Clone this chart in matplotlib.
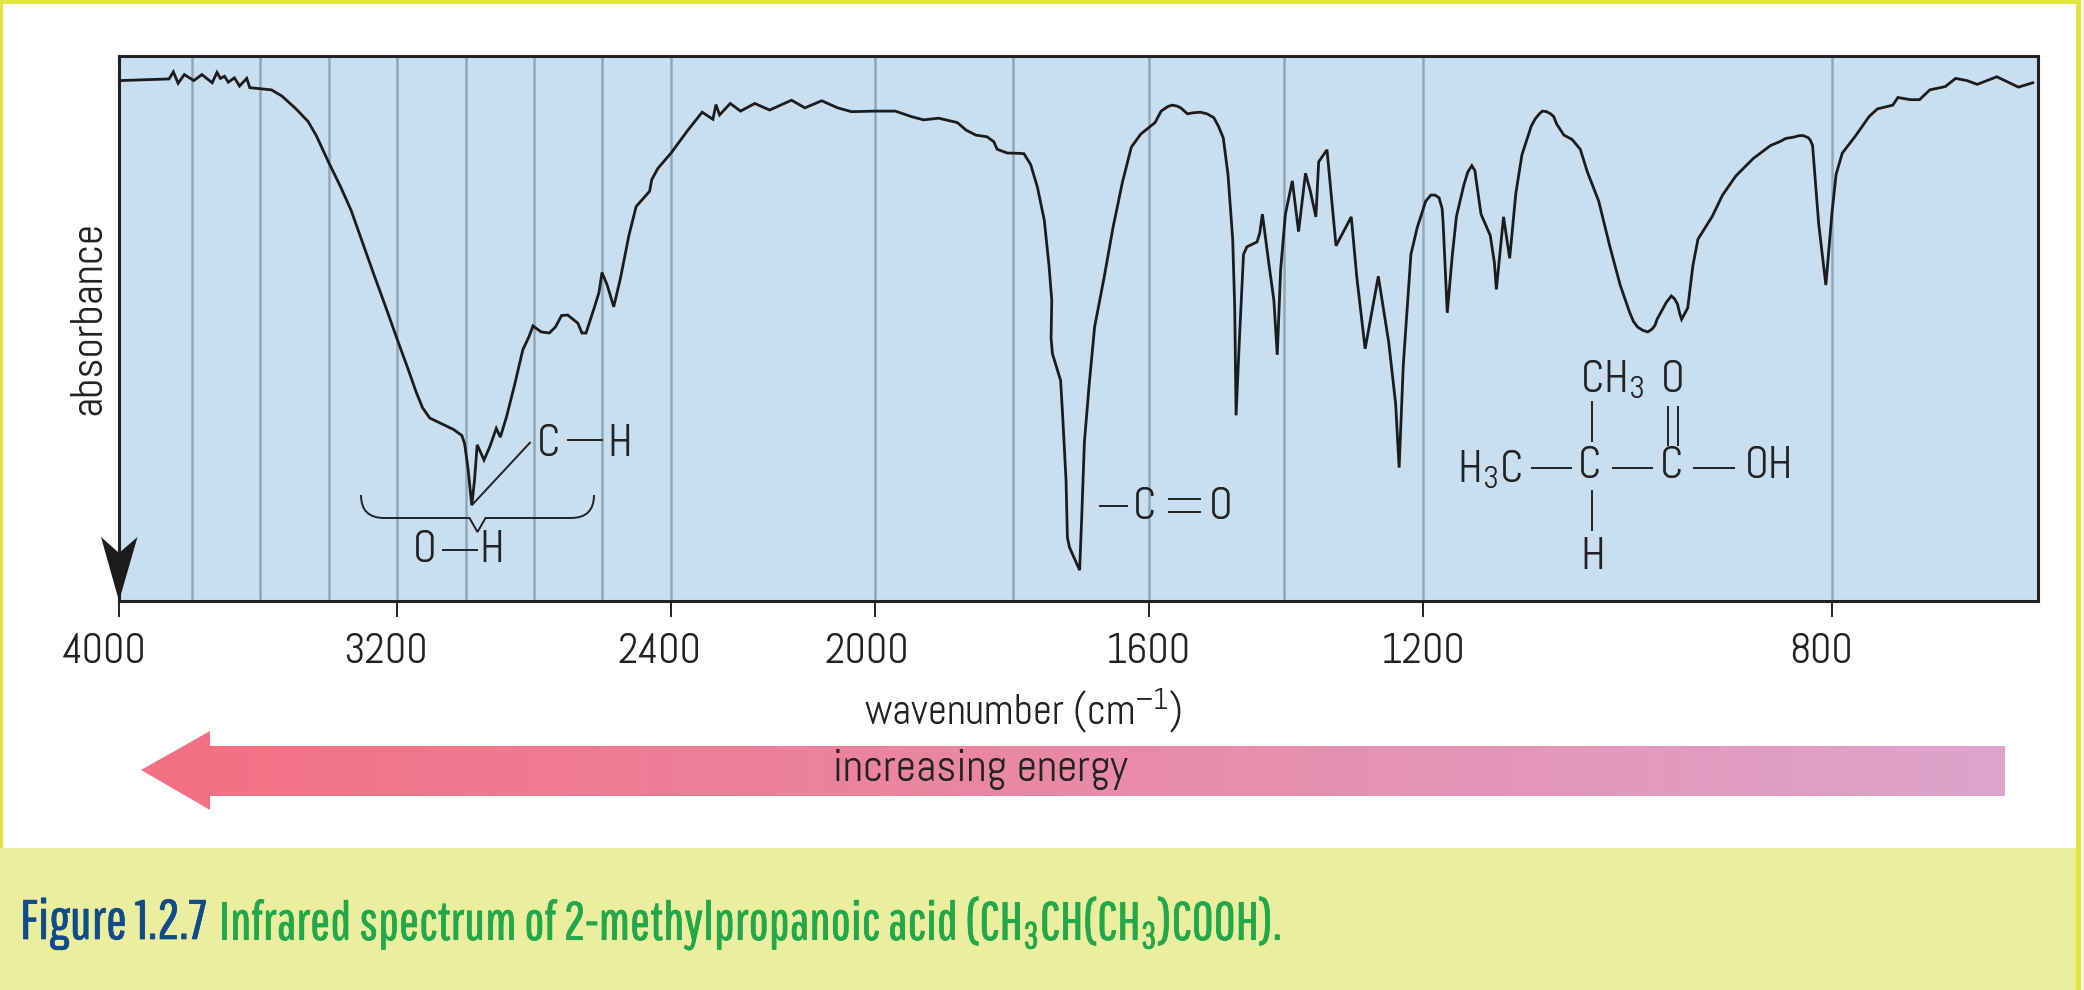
import numpy as np
import matplotlib
matplotlib.use("Agg")
import matplotlib.pyplot as plt
import matplotlib.patheffects as pe
from matplotlib.patches import Polygon, PathPatch, Rectangle
from matplotlib.path import Path
from matplotlib.colors import to_rgb
from matplotlib.transforms import ScaledTranslation

plt.rcParams['font.family'] = ['Abel', 'Liberation Sans', 'DejaVu Sans']
plt.rcParams['mathtext.fontset'] = 'custom'
plt.rcParams['mathtext.rm'] = 'Abel'
plt.rcParams['mathtext.default'] = 'regular'

# spectrum: wavenumber (cm-1), absorbance in % of frame height
wavenumber = [3997, 3863, 3851, 3838, 3821, 3795, 3771, 3741, 3727, 3717, 3705, 3694, 3676, 3661, 3640, 3631,
              3598, 3568, 3538, 3496, 3461, 3437, 3401, 3365, 3335, 3305, 3269, 3234, 3198, 3168, 3144, 3126,
              3105, 3072, 3036, 3012, 3004, 2994, 2983, 2975, 2967, 2947, 2929, 2911, 2899, 2881, 2857, 2833,
              2815, 2803, 2779, 2755, 2737, 2719, 2701, 2671, 2659, 2647, 2623, 2609, 2600, 2585, 2566, 2546,
              2522, 2501, 2462, 2456, 2438, 2400, 2367, 2339, 2318, 2312, 2305, 2284, 2264, 2236, 2207, 2164,
              2138, 2105, 2074, 2047, 2000, 1971, 1948, 1930, 1908, 1881, 1868, 1854, 1838, 1828, 1823, 1808,
              1800, 1784, 1774, 1764, 1754, 1747, 1743, 1744, 1742, 1730, 1727, 1722, 1720, 1717, 1702, 1699,
              1695, 1688, 1680, 1666, 1653, 1639, 1626, 1612, 1600, 1591, 1582, 1575, 1571, 1565, 1558, 1553,
              1543, 1534, 1524, 1514, 1504, 1497, 1490, 1483, 1476, 1473, 1471, 1466, 1460, 1455, 1440, 1436,
              1432, 1422, 1415, 1410, 1405, 1398, 1388, 1379, 1369, 1362, 1354, 1350, 1338, 1325, 1303, 1295,
              1283, 1264, 1249, 1239, 1234, 1228, 1223, 1217, 1208, 1197, 1192, 1188, 1184, 1181, 1180, 1176,
              1171, 1167, 1160, 1156, 1152, 1149, 1148, 1143, 1134, 1130, 1128, 1121, 1115, 1109, 1103, 1094,
              1090, 1086, 1083, 1079, 1075, 1072, 1069, 1062, 1054, 1046, 1039, 1028, 1017, 1007, 998, 994,
              990, 985, 980, 976, 973, 971, 966, 962, 957, 954, 951, 949, 947, 941, 936, 931,
              917, 907, 894, 877, 860, 851, 845, 838, 832, 828, 823, 821, 819, 813, 806, 800,
              796, 790, 777, 764, 756, 741, 736, 724, 715, 705, 690, 680, 669, 659, 640, 629,
              619, 605]
absorbance = [4.6, 4.3, 3.0, 5.1, 3.5, 4.6, 3.5, 5.0, 3.1, 4.2, 3.8, 4.9, 4.1, 5.6, 4.2, 5.9,
              6.1, 6.3, 7.4, 9.8, 12.1, 14.7, 19.6, 24.2, 28.4, 33.7, 40.0, 46.0, 52.3, 57.5, 61.8, 64.6,
              66.5, 67.5, 68.6, 69.7, 71.2, 75.8, 82.5, 77.9, 71.4, 74.2, 71.6, 68.4, 70.0, 66.3, 60.4, 54.0,
              51.6, 49.6, 50.7, 50.9, 49.8, 47.7, 47.6, 49.1, 50.9, 50.9, 46.3, 43.5, 39.8, 42.1, 46.1, 40.7,
              33.0, 27.7, 24.9, 22.8, 20.7, 17.9, 13.7, 10.4, 11.7, 9.0, 10.9, 8.8, 10.2, 8.8, 10.0, 8.2,
              9.6, 8.3, 9.6, 10.3, 10.2, 10.2, 11.2, 11.8, 11.5, 12.3, 13.7, 14.6, 14.9, 15.8, 17.2, 17.9,
              17.9, 18.0, 20.0, 24.2, 30.2, 38.6, 44.9, 51.9, 54.7, 59.6, 66.0, 77.9, 88.4, 90.2, 94.4, 84.9,
              70.9, 60.4, 49.8, 40.7, 31.6, 23.2, 16.8, 14.4, 13.2, 12.3, 10.2, 9.6, 9.3, 9.1, 9.3, 9.6,
              10.7, 10.5, 10.4, 10.7, 11.4, 13.0, 15.1, 21.8, 33.7, 46.3, 66.0, 51.9, 36.5, 35.1, 34.2, 32.6,
              29.1, 38.6, 44.9, 54.9, 39.3, 29.1, 23.0, 32.3, 21.6, 24.9, 29.6, 19.5, 17.3, 34.9, 29.6, 40.7,
              53.8, 40.5, 52.6, 63.9, 75.6, 56.8, 47.7, 36.5, 31.6, 26.7, 25.6, 25.6, 26.1, 28.1, 30.9, 47.2,
              36.5, 29.5, 23.9, 21.4, 20.2, 21.1, 22.5, 29.1, 33.0, 37.9, 42.9, 29.6, 37.2, 25.3, 18.2, 13.0,
              11.6, 10.7, 10.2, 10.3, 10.7, 11.2, 12.6, 14.6, 15.4, 17.2, 21.4, 26.7, 35.1, 42.1, 47.0, 48.8,
              49.8, 50.4, 50.7, 50.2, 49.5, 48.4, 46.7, 45.3, 44.1, 44.6, 45.6, 47.2, 48.4, 46.3, 38.6, 33.7,
              29.5, 25.6, 22.1, 18.9, 16.5, 15.8, 15.2, 15.0, 14.7, 14.7, 15.1, 15.6, 16.5, 30.9, 42.1, 28.8,
              21.8, 17.9, 14.7, 11.2, 9.8, 9.1, 7.7, 8.1, 8.1, 6.3, 5.7, 4.2, 4.6, 5.3, 3.9, 4.9,
              5.8, 5.0]

tick_wn = [4000, 3200, 2400, 2000, 1600, 1200, 800]
grid_wn = [3800, 3600, 3400, 3000, 2800, 2600, 1800, 1400]

# the printed axis is not linear, so it gets a piecewise scale
scale_wn = [600, 800, 1200, 1400, 1600, 1800, 2000, 2400, 2600, 2800, 3000, 3200, 3400, 3600, 3800, 4000]
scale_pos = [-2038, -1832, -1422.7, -1284, -1149, -1013, -875.4, -671, -602, -534, -466, -397, -329, -260.4, -192, -119]


def forward(w):
    return np.interp(w, scale_wn, scale_pos)


def inverse(p):
    return np.interp(p, scale_pos, scale_wn)


W, H = 2084, 990
fig = plt.figure(figsize=(W / 100, H / 100), dpi=100, facecolor='white')

# overlay in image pixels for everything that is not the spectrum
over = fig.add_axes([0, 0, 1, 1], zorder=3)
over.patch.set_alpha(0)
over.axis('off')

ax = fig.add_axes([119 / W, 1 - 600.7 / H, (2038 - 119) / W, (600.7 - 55.5) / H], zorder=2)
ax.set_facecolor('#c8dff2')
ax.set_xscale('function', functions=(forward, inverse))
ax.plot(wavenumber, absorbance, color='#1c1c1c', lw=2.0, zorder=3, solid_joinstyle='miter')

ax.set_xticks(tick_wn)
ax.set_xticklabels([str(t) for t in tick_wn])
ax.set_xticks(grid_wn, minor=True)
ax.set_xlim(4000, 600)
ax.set_ylim(100, 0)
ax.tick_params(axis='x', which='major', length=11.5, width=1.4, color='#222222', labelsize=30, pad=12,
               labelcolor='#222222')
ax.tick_params(axis='x', which='minor', length=0)
ax.set_yticks([])
ax.grid(True, axis='x', which='both', color='#8fa8b8', lw=1.8, zorder=1)
ax.set_axisbelow(True)
for s in ax.spines.values():
    s.set_color('#222222')
    s.set_linewidth(2.2)

# labels sit a little left of their ticks in the original
label_shift = [-14.6, -12, -12, -9, -1, 0, -11]
for lab, dx in zip(ax.get_xticklabels(), label_shift):
    lab.set_transform(lab.get_transform() + ScaledTranslation(dx / 100, 0, fig.dpi_scale_trans))

over.set_xlim(0, W)
over.set_ylim(H, 0)

txt = dict(color='#222222', ha='center', va='center')
bond = dict(color='#222222', lw=1.4, solid_capstyle='butt')


def dash(x0, y0, x1, y1):
    over.plot([x0, x1], [y0, y1], **bond)


# axis texts
over.text(89, 318, 'absorbance', rotation=90, fontsize=32, **txt)
over.text(1023, 711, 'wavenumber (cm$^{-1}$)', fontsize=30, **txt)

# arrow on the y axis
over.add_patch(Polygon([(101, 537), (119, 553), (137.5, 537), (119, 601)], closed=True, fc='#1c1c1c', ec='none'))

# O-H brace
brace = Path([(361, 495), (361, 518), (384, 518), (469.5, 518), (477.5, 532), (485.5, 518),
              (571, 518), (594, 518), (594, 495)],
             [Path.MOVETO, Path.CURVE3, Path.CURVE3, Path.LINETO, Path.LINETO, Path.LINETO,
              Path.LINETO, Path.CURVE3, Path.CURVE3])
over.add_patch(PathPatch(brace, fc='none', ec='#222222', lw=1.4))
over.text(425, 550, 'O', fontsize=32, **txt)
dash(442, 550, 477.5, 550)
over.text(492, 550, 'H', fontsize=32, **txt)

# C-H label and its leader
dash(472, 505, 530.6, 442)
over.text(549, 444, 'C', fontsize=32, **txt)
dash(567, 440, 603, 440)
over.text(620, 444, 'H', fontsize=32, **txt)

# C=O label
dash(1098.5, 506, 1128, 506)
over.text(1144.4, 507.6, 'C', fontsize=32, **txt)
dash(1168, 499, 1201, 499)
dash(1168, 511.5, 1201, 511.5)
over.text(1221, 507.6, 'O', fontsize=32, **txt)

# structure of the acid
over.text(1579.8, 392, 'CH$_3$', fontsize=32, color='#222222', ha='left', va='baseline')
over.text(1672.7, 380.6, 'O', fontsize=32, **txt)
dash(1592.4, 400.5, 1592.4, 442)
dash(1668.3, 405.5, 1668.3, 445.7)
dash(1677.9, 405.5, 1677.9, 445.7)
over.text(1456.7, 482, 'H$_3$C', fontsize=32, color='#222222', ha='left', va='baseline')
dash(1530.9, 467.9, 1572.3, 467.9)
over.text(1589.8, 466.7, 'C', fontsize=32, **txt)
dash(1611.6, 467.9, 1653, 467.9)
over.text(1671.8, 466.7, 'C', fontsize=32, **txt)
dash(1693.2, 467.9, 1734.6, 467.9)
over.text(1769.5, 466.7, 'OH', fontsize=32, **txt)
dash(1592.4, 489.7, 1592.4, 530.6)
over.text(1592.4, 557.4, 'H', fontsize=32, **txt)

# increasing energy arrow
c0, c1 = np.array(to_rgb('#f46f82')), np.array(to_rgb('#dea4cc'))
grad = np.linspace(0, 1, 256)[None, :, None] * (c1 - c0) + c0
im = over.imshow(grad, extent=(141, 2005, 810, 731), aspect='auto', zorder=1)
shape = Polygon([(141, 770), (210, 731), (210, 746), (2005, 746), (2005, 796), (210, 796), (210, 810)],
                closed=True, transform=over.transData, fc='none', ec='none')
over.add_patch(shape)
im.set_clip_path(shape)
over.text(980, 770, 'increasing energy', fontsize=32, zorder=2, **txt)

# caption band and the yellow edge strips
cap_font = ['Pathway Gothic One', 'Abel', 'Liberation Sans']
edge = '#e0e43c'
over.add_patch(Rectangle((0, 848), 2076, H - 848, fc='#ebee9c', ec='none', zorder=0))
over.add_patch(Rectangle((0, 0), 3, 848, fc=edge, ec='none', zorder=5))
over.add_patch(Rectangle((0, 0), 2081, 4, fc=edge, ec='none', zorder=5))
over.add_patch(Rectangle((2076, 0), 5, H, fc=edge, ec='none', zorder=5))
over.add_patch(Rectangle((2081, 0), 3, H, fc='#fdfce2', ec='none', zorder=5))
heavy = lambda c: [pe.withStroke(linewidth=0.5, foreground=c)]
over.text(20, 924, 'Figure 1.2.7', fontsize=40, family=cap_font, color='#0f4c8a', ha='left', va='center',
          path_effects=heavy('#0f4c8a'))
over.text(219, 924, 'Infrared spectrum of 2-methylpropanoic acid (CH$_3$CH(CH$_3$)COOH).', fontsize=38.5,
          family=cap_font, color='#22a84a', ha='left', va='center', path_effects=heavy('#22a84a'))

over.set_xlim(0, W)
over.set_ylim(H, 0)

fig.savefig('out.png', dpi=100, facecolor='white')
